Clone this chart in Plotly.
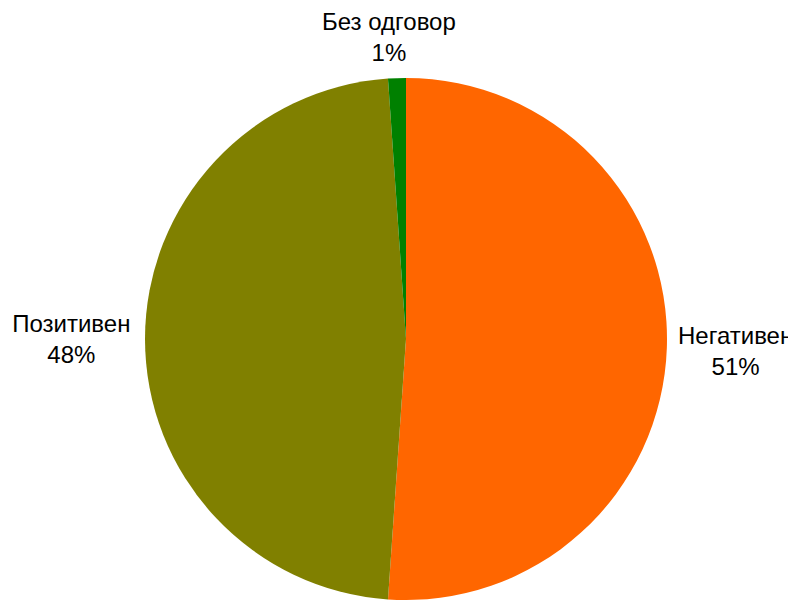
import plotly.graph_objects as go

labels = ['Негативен', 'Позитивен', 'Без одговор']
values = [51.1, 47.8, 1.1]
colors = ['#FF6600', '#808000', '#008000']

font = dict(family='Liberation Sans, Arial, sans-serif', size=24, color='#000000')

total = sum(values)
pct = [round(v / total * 100) for v in values]

fig = go.Figure(data=[go.Pie(
    labels=labels,
    values=values,
    sort=False,
    direction='clockwise',
    rotation=0,
    marker=dict(colors=colors, line=dict(width=0)),
    textinfo='label+percent',
    texttemplate='%{label}<br>%{percent:.0%}',
    textposition=['none', 'outside', 'none'],
    automargin=False,
    textfont=font,
    showlegend=False,
)])

# labels for the right and top slices sit a bit closer than plotly puts them
fig.add_annotation(
    text=f"{labels[0]}<br>{pct[0]}%",
    x=0.923, y=0.418,
    xref='paper', yref='paper',
    xanchor='center', yanchor='bottom',
    showarrow=False,
    font=font,
)
fig.add_annotation(
    text=f"{labels[2]}<br>{pct[2]}%",
    x=0.478, y=1.019,
    xref='paper', yref='paper',
    xanchor='center', yanchor='bottom',
    showarrow=False,
    font=font,
)

fig.update_layout(
    width=788,
    height=592,
    margin=dict(l=8, r=0, t=70, b=0),
    paper_bgcolor='white',
    plot_bgcolor='white',
)

fig.write_html("out.html")
